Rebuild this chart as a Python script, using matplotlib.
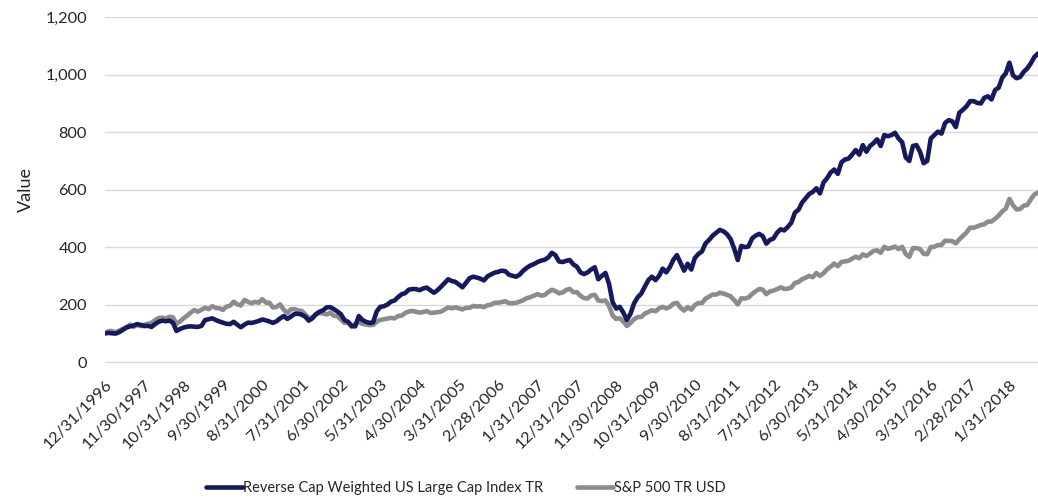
import matplotlib
matplotlib.use("Agg")
import matplotlib.pyplot as plt
import pandas as pd

# monthly values, 12/31/1996 .. 9/30/2018
dates = pd.date_range("1996-12-31", periods=262, freq="ME")

reverse_cap = [
    100,
    101, 100, 99, 104, 112, 120, 124, 127, 132, 129, 125, 126,
    122, 132, 140, 144, 142, 144, 137, 108, 115, 120, 123, 124,
    123, 122, 126, 146, 149, 152, 146, 141, 137, 133, 132, 140,
    130, 121, 130, 137, 136, 139, 143, 148, 145, 141, 136, 142,
    152, 160, 150, 158, 167, 168, 165, 158, 144, 152, 166, 175,
    180, 190, 191, 184, 176, 166, 146, 140, 126, 124, 160, 146,
    140, 136, 138, 176, 192, 194, 200, 210, 214, 226, 236, 240,
    252, 254, 254, 250, 256, 259, 250, 241, 250, 262, 275, 288,
    282, 279, 270, 260, 276, 292, 297, 294, 290, 284, 298, 305,
    311, 314, 318, 316, 304, 300, 297, 304, 318, 328, 336, 341,
    348, 353, 356, 364, 380, 372, 350, 348, 352, 355, 340, 332,
    312, 306, 312, 322, 330, 288, 300, 310, 272, 208, 186, 192,
    172, 146, 168, 204, 225, 238, 262, 285, 297, 285, 300, 325,
    312, 330, 356, 372, 345, 318, 342, 322, 362, 376, 385, 413,
    425, 440, 450, 460, 455, 445, 428, 395, 355, 404, 400, 402,
    430, 440, 446, 438, 412, 425, 430, 450, 462, 458, 470, 485,
    520, 530, 555, 570, 585, 592, 605, 587, 625, 640, 660, 670,
    655, 695, 705, 708, 722, 738, 722, 755, 732, 752, 762, 775,
    752, 790, 786, 790, 798, 778, 765, 712, 700, 752, 755, 732,
    692, 700, 778, 790, 802, 795, 832, 842, 838, 818, 868, 878,
    890, 908, 908, 902, 900, 920, 925, 914, 947, 955, 990, 1005,
    1042, 998, 988, 992, 1010, 1022, 1040, 1062, 1074,
]

sp500 = [
    100.0,
    107.2, 107.8, 103.2, 109.2, 115.6, 120.6, 130.1, 122.6, 129.1, 124.7, 130.2, 133.4,
    136.1, 145.6, 152.9, 154.3, 151.4, 157.4, 155.6, 132.9, 141.2, 152.5, 161.5, 172.2,
    180.9, 175.1, 181.9, 188.8, 184.1, 194.1, 187.9, 186.7, 181.4, 192.7, 196.4, 209.8,
    200.9, 196.9, 215.9, 209.3, 204.7, 209.6, 206.2, 218.7, 207.0, 206.0, 189.5, 192.1,
    200.5, 182.0, 170.3, 183.4, 184.3, 179.7, 177.8, 166.4, 152.8, 155.6, 167.3, 170.1,
    169.1, 165.6, 171.7, 161.1, 159.6, 148.1, 136.4, 137.0, 122.0, 132.5, 140.1, 132.9,
    130.4, 128.2, 129.3, 139.7, 146.9, 148.5, 150.9, 153.6, 151.8, 160.1, 161.3, 171.0,
    175.7, 177.8, 174.9, 172.0, 174.0, 177.2, 171.1, 171.5, 173.1, 175.5, 182.3, 189.9,
    186.9, 190.4, 186.8, 183.0, 188.5, 188.5, 195.3, 193.1, 194.4, 191.0, 197.7, 199.4,
    206.4, 206.4, 208.7, 211.3, 204.7, 204.8, 205.8, 210.2, 215.3, 222.1, 225.8, 230.8,
    236.2, 231.0, 233.3, 243.4, 251.3, 246.9, 239.0, 242.0, 250.7, 254.4, 243.2, 243.3,
    230.5, 222.5, 221.2, 231.7, 234.1, 214.0, 211.9, 214.5, 195.0, 162.0, 149.8, 152.5,
    140.7, 125.3, 136.0, 148.7, 156.6, 156.6, 168.3, 173.9, 180.1, 176.6, 186.7, 191.8,
    186.4, 191.7, 203.0, 206.0, 189.1, 178.9, 191.2, 182.2, 198.1, 205.4, 205.0, 220.5,
    227.6, 234.9, 234.7, 241.4, 238.1, 233.7, 228.7, 215.7, 200.3, 221.8, 220.7, 224.6,
    236.6, 246.2, 254.0, 252.0, 236.2, 245.6, 248.7, 253.6, 259.8, 254.6, 255.3, 259.4,
    275.2, 278.3, 288.3, 293.5, 299.6, 295.1, 309.7, 300.0, 308.9, 322.7, 331.7, 342.7,
    333.5, 347.9, 350.3, 352.5, 359.9, 366.7, 361.2, 374.8, 369.0, 377.6, 386.8, 388.7,
    380.2, 401.1, 394.1, 397.5, 401.7, 393.2, 401.0, 375.9, 365.9, 396.3, 396.5, 393.2,
    376.8, 375.2, 400.0, 401.1, 407.2, 407.6, 422.1, 421.6, 421.1, 412.9, 427.0, 438.8,
    451.0, 467.8, 467.6, 471.8, 477.3, 479.6, 488.9, 489.1, 498.6, 509.7, 524.0, 533.9,
    567.9, 545.7, 531.1, 532.5, 544.0, 546.7, 566.4, 583.5, 589.6,
]

series_names = ["Reverse Cap Weighted US Large Cap Index TR", "S&P 500 TR USD"]
series_colors = ["#161a5c", "#8c8c8c"]
yticks = [0, 200, 400, 600, 800, 1000, 1200]
tick_every = 11

plt.rcParams["font.family"] = ["Lato", "DejaVu Sans"]
text_col = "#262626"

fig = plt.figure(figsize=(10.38, 5.01), dpi=100)
ax = fig.add_axes([105 / 1038, 1 - 362 / 501, (1038 - 105) / 1038, (362 - 17.3) / 501])

x = list(range(len(dates)))
ax.plot(x, sp500, color=series_colors[1], lw=3.3, solid_capstyle="round",
        solid_joinstyle="round", label=series_names[1], zorder=3)
ax.plot(x, reverse_cap, color=series_colors[0], lw=3.3, solid_capstyle="round",
        solid_joinstyle="round", label=series_names[0], zorder=4)

ax.set_xlim(0, len(dates) - 1)
ax.set_ylim(0, 1200)
ax.set_yticks(yticks)
ax.set_yticklabels([f"{v:,}" for v in yticks])
ax.grid(axis="y", color="#d9d9d9", lw=1)
ax.set_axisbelow(True)
for s in ["top", "right", "left"]:
    ax.spines[s].set_visible(False)
ax.spines["bottom"].set_color("#d9d9d9")

tick_pos = x[::tick_every]
ax.set_xticks(tick_pos)
ax.set_xticklabels([f"{d.month}/{d.day}/{d.year}" for d in dates[::tick_every]],
                   rotation=45, ha="right", va="top", rotation_mode="anchor")
ax.tick_params(axis="both", length=0, labelsize=11.8, colors=text_col)
ax.tick_params(axis="y", pad=13)
ax.tick_params(axis="x", pad=11)

ax.set_ylabel("Value", fontsize=13, color=text_col, labelpad=8)

handles, labels = ax.get_legend_handles_labels()
order = [1, 0]
fig.legend([handles[i] for i in order], [labels[i] for i in order],
           loc="center", bbox_to_anchor=(466 / 1038, 1 - 488 / 501), ncol=2,
           frameon=False, fontsize=10.5, handlelength=2.5, handletextpad=0.05,
           columnspacing=2.3, labelcolor=text_col)

fig.savefig("out.png", dpi=100)
